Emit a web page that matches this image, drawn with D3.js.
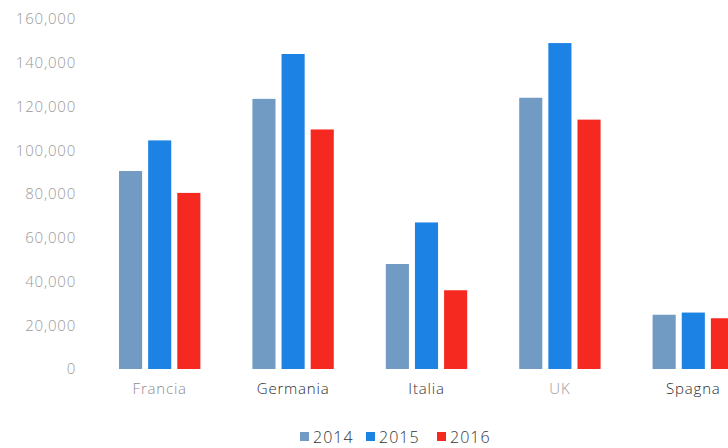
<!DOCTYPE html>
<html>
<head>
<meta charset="utf-8">
<script src="https://cdn.jsdelivr.net/npm/d3@7/dist/d3.min.js"></script>
<style>
  html, body { margin: 0; padding: 0; background: #fff; }
  svg { display: block; }
  text { font-family: "Open Sans", "Lato", sans-serif; font-weight: 300; }
</style>
</head>
<body>
<svg id="chart" width="728" height="448"></svg>
<script>
// Paesi e anni
const countries = ["Francia", "Germania", "Italia", "UK", "Spagna"];
const years = ["2014", "2015", "2016"];

// Valori per anno, nello stesso ordine dei paesi
const values2014 = [90500, 123500, 48000, 124000, 24800];
const values2015 = [104500, 144000, 67000, 149000, 25800];
const values2016 = [80500, 109500, 36000, 114000, 23200];

// Etichette dell'asse verticale
const yTicks = [0, 20000, 40000, 60000, 80000, 100000, 120000, 140000, 160000];

const colors = { "2014": "#729bc3", "2015": "#1c82e3", "2016": "#f5291f" };
const labelColors = { "Francia": "#8c8c8c", "Germania": "#2a2a2a", "Italia": "#333", "UK": "#9a9a9a", "Spagna": "#2a2a2a" };

const series = { "2014": values2014, "2015": values2015, "2016": values2016 };
const rows = countries.map((c, i) => ({ country: c, vals: years.map(y => ({ year: y, value: series[y][i] })) }));

const svg = d3.select("#chart");

const y = d3.scaleLinear().domain([0, 160000]).range([369, 19]);
const x = d3.scaleBand().domain(countries).range([93, 760]).paddingInner(0.39).paddingOuter(0.195);
const xs = d3.scaleBand().domain(years).range([0, x.bandwidth()]).paddingInner(0.207);

// Asse Y senza linea, solo etichette
const fmt = d3.format(",");
const yAxis = svg.append("g")
  .attr("transform", "translate(76,0)")
  .call(d3.axisLeft(y).tickValues(yTicks).tickFormat(fmt).tickSize(0).tickPadding(0));
yAxis.select(".domain").remove();
yAxis.selectAll("text")
  .attr("fill", "#9a9a9a")
  .style("font-size", "15px")
  .style("letter-spacing", "0.8px")
  .style("font-family", "\"Open Sans\", sans-serif")
  .style("font-weight", 300);

// Barre
const groups = svg.append("g").selectAll("g")
  .data(rows).join("g")
  .attr("transform", d => `translate(${x(d.country)},0)`);

groups.selectAll("rect")
  .data(d => d.vals).join("rect")
  .attr("x", d => xs(d.year))
  .attr("width", xs.bandwidth())
  .attr("y", d => y(d.value))
  .attr("height", d => y(0) - y(d.value))
  .attr("fill", d => colors[d.year]);

// Asse X: solo nomi dei paesi
const xAxis = svg.append("g")
  .attr("transform", "translate(0,383)")
  .call(d3.axisBottom(x).tickSize(0).tickPadding(0));
xAxis.select(".domain").remove();
xAxis.selectAll("text")
  .attr("dy", "0.71em")
  .attr("fill", d => labelColors[d])
  .style("font-size", "15px")
  .style("letter-spacing", "0.8px")
  .style("font-family", "\"Open Sans\", sans-serif")
  .style("font-weight", 300);

// Legenda
const legend = svg.append("g").attr("transform", "translate(0,437)");
const legendX = [300, 366, 437];
const items = legend.selectAll("g").data(years).join("g")
  .attr("transform", (d, i) => `translate(${legendX[i]},0)`);
items.append("rect")
  .attr("x", 0).attr("y", -5)
  .attr("width", 9).attr("height", 9)
  .attr("fill", d => colors[d]);
items.append("text")
  .attr("x", 13).attr("y", 0)
  .attr("dy", "0.36em")
  .attr("fill", "#333")
  .style("font-size", "16px")
  .style("letter-spacing", "1px")
  .text(d => d);
</script>
</body>
</html>
